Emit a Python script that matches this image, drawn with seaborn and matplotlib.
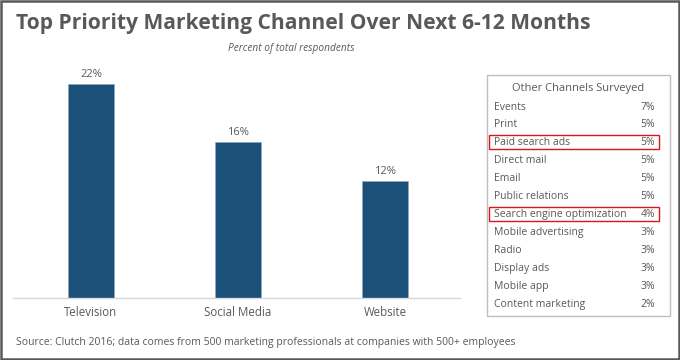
import pandas as pd
import seaborn as sns
import matplotlib.pyplot as plt
from matplotlib.patches import Rectangle

# main chart data
channels = ["Television", "Social Media", "Website"]
shares = [22, 16, 12]

# side table data
other_names = ["Events", "Print", "Paid search ads", "Direct mail", "Email",
               "Public relations", "Search engine optimization",
               "Mobile advertising", "Radio", "Display ads", "Mobile app",
               "Content marketing"]
other_shares = [7, 5, 5, 5, 5, 5, 4, 3, 3, 3, 3, 2]
highlighted = ["Paid search ads", "Search engine optimization"]

GRAY = "#595959"
BAR = "#1b5079"

sns.set_theme(style="white")
plt.rcParams["font.family"] = ["Open Sans", "DejaVu Sans"]

df = pd.DataFrame({"channel": channels, "share": shares})

fig = plt.figure(figsize=(6.8, 3.6), dpi=100)
ax = fig.add_axes([13 / 680, 62 / 360, 447 / 680, 238 / 360])

sns.barplot(data=df, x="channel", y="share", color=BAR, width=0.31,
            saturation=1, ax=ax)
for p in ax.patches:
    p.set_edgecolor("#8fa9c0")
    p.set_linewidth(0.6)
for c in ax.containers:
    ax.bar_label(c, labels=[f"{v}%" for v in shares], padding=3,
                 fontsize=8, color=GRAY)

ax.set_xlim(-0.53, 2.51)
ax.set_ylim(0, 24.46)
ax.set_xlabel("")
ax.set_ylabel("")
ax.set_yticks([])
ax.tick_params(axis="x", length=0, pad=6, labelsize=8.3, labelcolor=GRAY)
for s in ["top", "left", "right"]:
    ax.spines[s].set_visible(False)
ax.spines["bottom"].set_color("#d9d9d9")
ax.spines["bottom"].set_linewidth(1)

# titles
fig.text(16 / 680, 1 - 23 / 360, "Top Priority Marketing Channel Over Next 6-12 Months",
         fontsize=15.1, fontweight="bold", color=GRAY, va="center", ha="left")
fig.text(291 / 680, 1 - 49 / 360, "Percent of total respondents", fontsize=7.3,
         style="italic", color=GRAY, va="center", ha="center")
fig.text(16 / 680, 1 - 343 / 360,
         "Source: Clutch 2016; data comes from 500 marketing professionals at companies with 500+ employees",
         fontsize=7.45, color=GRAY, va="center", ha="left")

# side table box
def fx(px):
    return px / 680

def fy(py):
    return 1 - py / 360

fig.patches.append(Rectangle((fx(487), fy(316)), fx(183), 241 / 360,
                             transform=fig.transFigure, fill=False,
                             edgecolor="#bfbfbf", linewidth=1))
fig.text(fx(578), fy(88), "Other Channels Surveyed", fontsize=8, color=GRAY,
         ha="center", va="center")
row_y0 = 107
row_step = 17.95
for i, (name, val) in enumerate(zip(other_names, other_shares)):
    y = row_y0 + i * row_step
    fig.text(fx(494), fy(y), name, fontsize=7.5, color=GRAY, ha="left", va="center")
    fig.text(fx(655), fy(y), f"{val}%", fontsize=7.5, color=GRAY, ha="right", va="center")
    if name in highlighted:
        fig.patches.append(Rectangle((fx(489), fy(y + 6.5)), fx(170), 14 / 360,
                                     transform=fig.transFigure, fill=False,
                                     edgecolor="#e0141e", linewidth=1))

# outer border
fig.patches.append(Rectangle((0.001, 0.002), 0.997, 0.996, transform=fig.transFigure,
                             fill=False, edgecolor=GRAY, linewidth=1.8))

fig.savefig("out.png", dpi=100)
